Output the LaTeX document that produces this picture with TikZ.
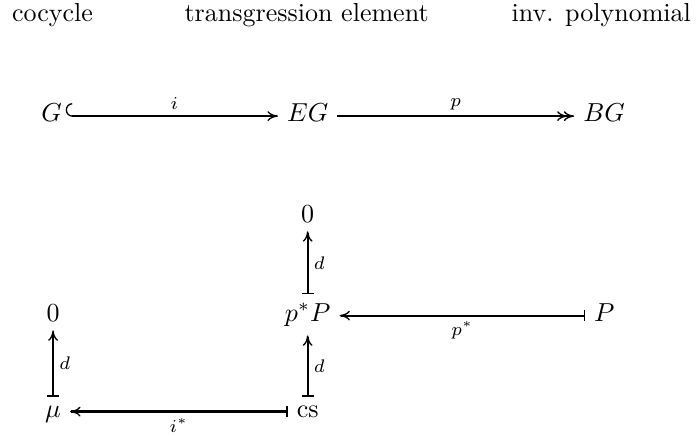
\documentclass[tikz,border=0pt]{standalone}
\usetikzlibrary{arrows.meta}
\begin{document}
\begin{tikzpicture}[x=1pt,y=1pt,
  obj/.style={anchor=base, inner sep=3.33pt},
  hdr/.style={anchor=base, inner sep=0pt},
  lab/.style={inner sep=2pt},
  cmhead/.tip={Computer Modern Rightarrow[length=4pt,width=3.8pt,line width=0.5pt]},
  ar/.style={thick, -cmhead},
  hookar/.style={thick, {Hooks[right,length=2.5pt,width=10pt,line width=0.5pt]}-cmhead},
  epiar/.style={thick, -{cmhead[sep=-1.4pt]cmhead}},
  mapar/.style={thick, {Bar[width=4.5pt,line width=0.5pt]}-cmhead},
]
\useasboundingbox (0,0) rectangle (268,-168);
% header
\node[hdr] (h1) at (20.2,-8.1) {cocycle};
\node[hdr] (h2) at (117.9,-8.1) {transgression element};
\node[hdr] (h3) at (231.2,-8.1) {inv. polynomial};
% first row
\node[obj] (G) at (19.8,-46.8) {$G$};
\node[obj] (EG) at (118.3,-46.8) {$EG$};
\node[obj] (BG) at (232.3,-46.8) {$BG$};
% lower diagram
\node[obj] (z1) at (118.3,-85.4) {$0$};
\node[obj] (z0) at (20.4,-123.5) {$0$};
\node[obj] (pP) at (118.3,-123.5) {$p^*P$};
\node[obj] (P) at (232.3,-123.5) {$P$};
\node[obj] (mu) at (20.4,-160.4) {$\mu$};
\node[obj] (cs) at (118.3,-160.4) {$\mathrm{cs}$};
% arrows
\draw[hookar, shorten <=-2pt] (G.mid east) -- node[lab,above]{$\scriptstyle i$} (EG.mid west);
\draw[epiar] (EG.mid east) -- node[lab,above]{$\scriptstyle p$} (BG.mid west);
\draw[mapar] (pP.north) -- node[lab,right]{$\scriptstyle d$} (z1.south);
\draw[mapar] (cs.north) -- node[lab,right]{$\scriptstyle d$} (pP.south);
\draw[mapar] (mu.north) -- node[lab,right]{$\scriptstyle d$} (z0.south);
\draw[mapar] (P.mid west) -- node[lab,below]{$\scriptstyle p^*$} (pP.mid east);
\draw[mapar, very thick] (cs.mid west) -- node[lab,below]{$\scriptstyle i^*$} (mu.mid east);
\end{tikzpicture}
\end{document}
